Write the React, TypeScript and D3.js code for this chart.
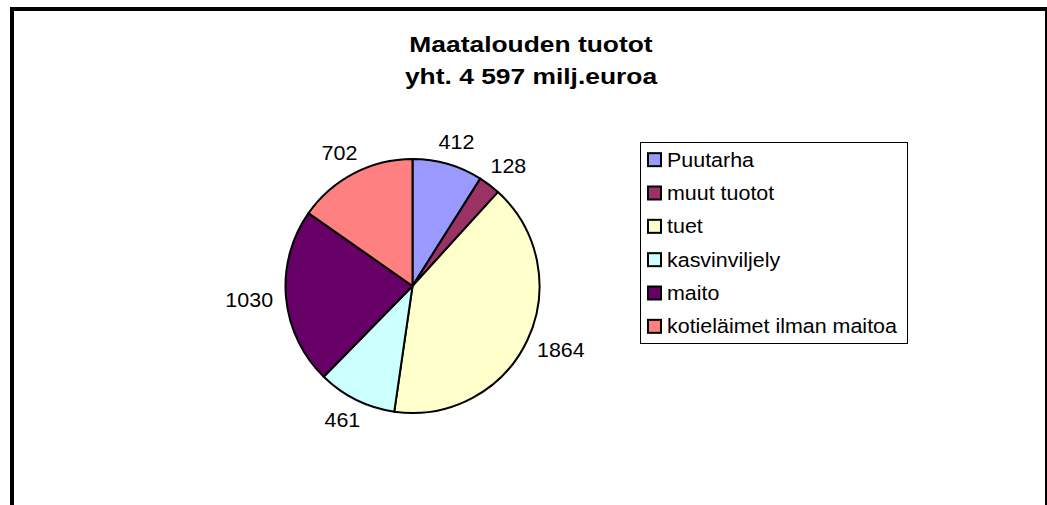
import React, { useEffect, useRef } from 'react';
import * as d3 from 'd3';

const categories = ['Puutarha', 'muut tuotot', 'tuet', 'kasvinviljely', 'maito', 'kotieläimet ilman maitoa'];
const values = [412, 128, 1864, 461, 1030, 702];
const colors = ['#9999ff', '#993366', '#ffffcc', '#ccffff', '#660066', '#ff8080'];
const titleLines = ['Maatalouden tuotot', 'yht. 4 597 milj.euroa'];

const App: React.FC = () => {
  const svgRef = useRef<SVGSVGElement>(null);

  useEffect(() => {
    if (!svgRef.current) return;
    const width = 1047;
    const height = 505;
    const font = 'Arial, "Liberation Sans", sans-serif';
    const stretch = 1.1; // the original text is a bit wider than Liberation Sans

    const svg = d3.select(svgRef.current);
    svg.selectAll('*').remove();
    svg.attr('width', width).attr('height', height);

    svg.append('rect')
      .attr('width', width).attr('height', height)
      .attr('fill', '#fff');

    // chart frame (bottom runs off the page)
    svg.append('rect')
      .attr('x', 12).attr('y', 9)
      .attr('width', 1035).attr('height', 530)
      .attr('fill', 'none')
      .attr('stroke', '#000')
      .attr('stroke-width', 4);

    svg.append('g')
      .selectAll('g')
      .data(titleLines)
      .enter()
      .append('g')
      .attr('transform', (d, i) => `translate(531, ${52 + i * 31.5}) scale(1.2, 1)`)
      .append('text')
      .attr('text-anchor', 'middle')
      .style('font-family', font)
      .style('font-weight', 'bold')
      .style('font-size', '22px')
      .text(d => d);

    const cx = 412.5;
    const cy = 286;
    const r = 127;

    const pie = d3.pie<number>().sort(null).value(d => d);
    const arcs = pie(values);
    const arc = d3.arc<d3.PieArcDatum<number>>().innerRadius(0).outerRadius(r);

    const g = svg.append('g').attr('transform', `translate(${cx},${cy})`);

    g.selectAll('path')
      .data(arcs)
      .enter()
      .append('path')
      .attr('d', arc)
      .attr('fill', (d, i) => colors[i])
      .attr('stroke', '#000')
      .attr('stroke-width', 2)
      .attr('stroke-linejoin', 'round');

    const labelR = r + 14;
    g.selectAll('g.lbl')
      .data(arcs)
      .enter()
      .append('g')
      .attr('class', 'lbl')
      .attr('transform', d => {
        const a = (d.startAngle + d.endAngle) / 2;
        const s = Math.sin(a);
        const c = Math.cos(a);
        const w = String(d.value).length * 11.5;
        const x = s * labelR + s * w / 2;
        const y = -c * labelR - c * 9;
        return `translate(${x},${y}) scale(${stretch},1)`;
      })
      .append('text')
      .attr('dy', '0.35em')
      .attr('text-anchor', 'middle')
      .style('font-family', font)
      .style('font-size', '19.5px')
      .attr('fill', '#000')
      .text(d => String(d.value));

    // legend
    const lx = 640;
    const ly = 142;
    const lw = 267;
    const lh = 201;
    svg.append('rect')
      .attr('x', lx + 0.5).attr('y', ly + 0.5)
      .attr('width', lw).attr('height', lh)
      .attr('fill', '#fff')
      .attr('stroke', '#000')
      .attr('stroke-width', 1);

    const row = d3.scaleBand<number>()
      .domain(d3.range(categories.length))
      .range([ly + 1, ly + lh])
      .padding(0);

    const items = svg.append('g')
      .selectAll('g')
      .data(categories)
      .enter()
      .append('g')
      .attr('transform', (d, i) => `translate(${lx}, ${(row(i) as number) + row.bandwidth() / 2})`);

    items.append('rect')
      .attr('x', 8).attr('y', -6.5)
      .attr('width', 13).attr('height', 13)
      .attr('fill', (d, i) => colors[i])
      .attr('stroke', '#000')
      .attr('stroke-width', 2);

    items.append('g')
      .attr('transform', `translate(27,0) scale(${stretch},1)`)
      .append('text')
      .attr('dy', '0.35em')
      .style('font-family', font)
      .style('font-size', '19.5px')
      .attr('fill', '#000')
      .text(d => d);
  }, []);

  return (
    <div style={{ position: 'absolute', left: 0, top: 0 }}>
      <svg ref={svgRef} style={{ display: 'block' }}></svg>
    </div>
  );
};

export default App;
